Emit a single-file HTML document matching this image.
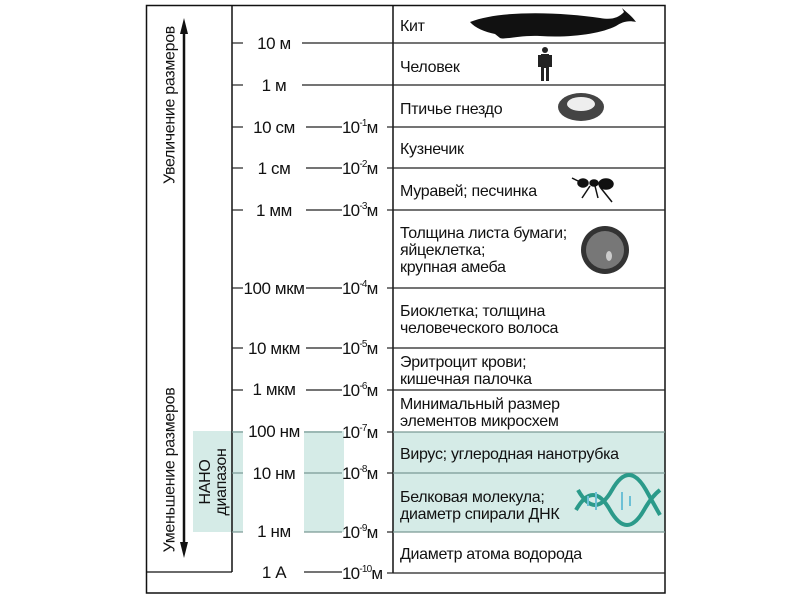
<!DOCTYPE html>
<html><head><meta charset="utf-8"><style>
body{margin:0;background:#fff;width:800px;height:600px;position:relative;overflow:hidden;font-family:"Liberation Sans",Arial,sans-serif;color:#111}
.a{position:absolute}
.t{position:absolute;font-size:16px;line-height:17px;white-space:nowrap;letter-spacing:-0.3px}
.l{position:absolute;font-size:17px;white-space:nowrap;transform:translateY(-50%);left:234px;width:80px;text-align:center;letter-spacing:-0.4px}
.r{position:absolute;font-size:17px;white-space:nowrap;transform:translateY(-50%);left:342px;letter-spacing:-0.8px}
sup{font-size:10px;vertical-align:7px}
</style></head><body>
<svg class="a" style="left:0;top:0" width="800" height="600">
<rect x="193" y="431" width="50" height="101" fill="#d5ebe7"/>
<rect x="304" y="431" width="40" height="101" fill="#d5ebe7"/>
<rect x="393" y="432" width="272" height="100" fill="#d5ebe7"/>
<rect x="146.5" y="5.5" width="518.5" height="587.5" fill="none" stroke="#111" stroke-width="1.5"/>
<line x1="232" y1="5" x2="232" y2="572" stroke="#111" stroke-width="1.5"/>
<line x1="393" y1="5" x2="393" y2="573" stroke="#111" stroke-width="1.5"/>
<line x1="146" y1="572" x2="232" y2="572" stroke="#111" stroke-width="1.2"/>
<g stroke="#222" stroke-width="1.2">
<line x1="393" y1="573" x2="665" y2="573"/>
<line x1="393" y1="43" x2="665" y2="43"/><line x1="393" y1="85" x2="665" y2="85"/>
<line x1="393" y1="127" x2="665" y2="127"/><line x1="393" y1="168" x2="665" y2="168"/>
<line x1="393" y1="210" x2="665" y2="210"/><line x1="393" y1="288" x2="665" y2="288"/>
<line x1="393" y1="348" x2="665" y2="348"/><line x1="393" y1="390" x2="665" y2="390"/>
<line x1="393" y1="432" x2="665" y2="432" stroke="#7a9a95"/><line x1="393" y1="473" x2="665" y2="473" stroke="#7a9a95"/>
<line x1="393" y1="532" x2="665" y2="532" stroke="#7a9a95"/>
<line x1="232" y1="43" x2="243" y2="43"/><line x1="302" y1="43" x2="393" y2="43"/>
<line x1="232" y1="85" x2="243" y2="85"/><line x1="302" y1="85" x2="393" y2="85"/>
<line x1="232" y1="127" x2="243" y2="127"/><line x1="306" y1="127" x2="342" y2="127"/><line x1="387" y1="127" x2="393" y2="127"/>
<line x1="232" y1="168" x2="243" y2="168"/><line x1="306" y1="168" x2="342" y2="168"/><line x1="387" y1="168" x2="393" y2="168"/>
<line x1="232" y1="210" x2="243" y2="210"/><line x1="306" y1="210" x2="342" y2="210"/><line x1="387" y1="210" x2="393" y2="210"/>
<line x1="232" y1="288" x2="243" y2="288"/><line x1="306" y1="288" x2="342" y2="288"/><line x1="387" y1="288" x2="393" y2="288"/>
<line x1="232" y1="348" x2="243" y2="348"/><line x1="306" y1="348" x2="342" y2="348"/><line x1="387" y1="348" x2="393" y2="348"/>
<line x1="232" y1="390" x2="243" y2="390"/><line x1="306" y1="390" x2="342" y2="390"/><line x1="387" y1="390" x2="393" y2="390"/>
<line x1="232" y1="432" x2="243" y2="432" stroke="#7a9a95"/><line x1="304" y1="432" x2="342" y2="432" stroke="#7a9a95"/><line x1="387" y1="432" x2="393" y2="432"/>
<line x1="232" y1="473" x2="243" y2="473" stroke="#7a9a95"/><line x1="304" y1="473" x2="342" y2="473" stroke="#7a9a95"/><line x1="387" y1="473" x2="393" y2="473"/>
<line x1="232" y1="532" x2="243" y2="532" stroke="#7a9a95"/><line x1="304" y1="532" x2="342" y2="532" stroke="#7a9a95"/><line x1="387" y1="532" x2="393" y2="532"/>
<line x1="304" y1="572" x2="342" y2="572"/><line x1="387" y1="573" x2="393" y2="573"/>
</g>
<line x1="184" y1="28" x2="184" y2="548" stroke="#111" stroke-width="2.5"/>
<polygon points="184,18 180,34 188,34" fill="#111"/>
<polygon points="184,558 180,542 188,542" fill="#111"/>
<path d="M470,22 C500,10 560,12 600,18 C612,20 618,18 624,12 L622,8 C626,12 632,16 636,22 C628,20 622,22 616,26 C600,34 570,38 540,36 C520,35 505,40 500,38 L495,34 C485,32 475,28 470,22 Z" fill="#111"/>
<g fill="#222"><circle cx="545" cy="50" r="3"/><rect x="541" y="54" width="8" height="14"/><rect x="538" y="55" width="3" height="12"/><rect x="549" y="55" width="3" height="12"/><rect x="541" y="67" width="3" height="14"/><rect x="546" y="67" width="3" height="14"/></g>
<ellipse cx="581" cy="107" rx="23" ry="14" fill="#444"/><ellipse cx="581" cy="104" rx="14" ry="7" fill="#eee"/>
<g stroke="#111" stroke-width="1.5" fill="#111"><ellipse cx="583" cy="183" rx="5" ry="4"/><ellipse cx="594" cy="183" rx="4" ry="3"/><ellipse cx="606" cy="184" rx="7" ry="5"/><line x1="590" y1="186" x2="582" y2="198"/><line x1="595" y1="186" x2="598" y2="198"/><line x1="600" y1="187" x2="612" y2="202"/><line x1="578" y1="181" x2="572" y2="178"/></g>
<circle cx="605" cy="250" r="24" fill="#333"/><circle cx="605" cy="250" r="19" fill="#777"/><ellipse cx="609" cy="256" rx="3" ry="5" fill="#ccc"/>
<g fill="none" stroke="#2b9a8a" stroke-width="4"><path d="M578,490 Q595,520 612,490 Q629,460 646,490 Q656,508 660,515"/><path d="M576,510 Q593,480 610,510 Q627,540 644,510 Q652,496 660,490"/></g>
<g stroke="#6cc0d6" stroke-width="2"><line x1="588" y1="496" x2="588" y2="506"/><line x1="596" y1="492" x2="596" y2="510"/><line x1="622" y1="492" x2="622" y2="510"/><line x1="630" y1="496" x2="630" y2="506"/></g>
</svg>
<div class="l" style="top:44px">10 м</div>
<div class="l" style="top:86px">1 м</div>
<div class="l" style="top:128px">10 см</div>
<div class="l" style="top:169px">1 см</div>
<div class="l" style="top:211px">1 мм</div>
<div class="l" style="top:289px">100 мкм</div>
<div class="l" style="top:349px">10 мкм</div>
<div class="l" style="top:390px">1 мкм</div>
<div class="l" style="top:432px">100 нм</div>
<div class="l" style="top:474px">10 нм</div>
<div class="l" style="top:532px">1 нм</div>
<div class="l" style="top:573px">1 А</div>
<div class="r" style="top:128px">10<sup>-1</sup>м</div>
<div class="r" style="top:169px">10<sup>-2</sup>м</div>
<div class="r" style="top:211px">10<sup>-3</sup>м</div>
<div class="r" style="top:289px">10<sup>-4</sup>м</div>
<div class="r" style="top:349px">10<sup>-5</sup>м</div>
<div class="r" style="top:391px">10<sup>-6</sup>м</div>
<div class="r" style="top:433px">10<sup>-7</sup>м</div>
<div class="r" style="top:474px">10<sup>-8</sup>м</div>
<div class="r" style="top:533px">10<sup>-9</sup>м</div>
<div class="r" style="top:574px">10<sup>-10</sup>м</div>
<div class="t" style="left:400px;top:18px">Кит</div>
<div class="t" style="left:400px;top:59px">Человек</div>
<div class="t" style="left:400px;top:101px">Птичье гнездо</div>
<div class="t" style="left:400px;top:141px">Кузнечик</div>
<div class="t" style="left:400px;top:183px">Муравей; песчинка</div>
<div class="t" style="left:400px;top:225px">Толщина листа бумаги;<br>яйцеклетка;<br>крупная амеба</div>
<div class="t" style="left:400px;top:303px">Биоклетка; толщина<br>человеческого волоса</div>
<div class="t" style="left:400px;top:354px">Эритроцит крови;<br>кишечная палочка</div>
<div class="t" style="left:400px;top:396px">Минимальный размер<br>элементов микросхем</div>
<div class="t" style="left:400px;top:446px">Вирус; углеродная нанотрубка</div>
<div class="t" style="left:400px;top:489px">Белковая молекула;<br>диаметр спирали ДНК</div>
<div class="t" style="left:400px;top:546px">Диаметр атома водорода</div>
<div class="t" style="left:170px;top:105px;transform:translate(-50%,-50%) rotate(-90deg)">Увеличение размеров</div>
<div class="t" style="left:170px;top:470px;transform:translate(-50%,-50%) rotate(-90deg)">Уменьшение размеров</div>
<div class="t" style="left:214px;top:482px;transform:translate(-50%,-50%) rotate(-90deg);line-height:16px;text-align:center;font-size:16px">НАНО<br>диапазон</div>
</body></html>
